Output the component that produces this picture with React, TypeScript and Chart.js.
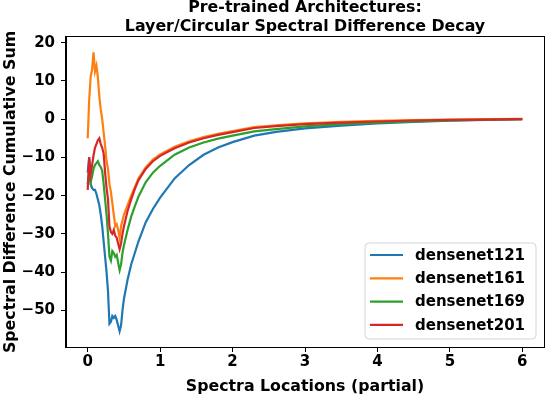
import React, { useEffect, useRef } from "react";
import { Chart, registerables } from "chart.js";

Chart.register(...registerables);

// ---------- data ----------
const xValues = [
  0, 0.02, 0.04, 0.06, 0.08, 0.1, 0.12, 0.14, 0.16, 0.18, 0.2, 0.22, 0.24, 0.26, 0.28, 0.3,
  0.32, 0.34, 0.36, 0.38, 0.4, 0.42, 0.44, 0.46, 0.48, 0.5, 0.55, 0.6, 0.65, 0.7, 0.8, 0.9,
  1.0, 1.2, 1.4, 1.6, 1.8, 2.0, 2.3, 2.6, 3.0, 3.5, 4.0, 4.5, 5.0, 5.5, 6.0,
];

const densenet121 = [
  -14, -10, -17, -18, -18.5, -18.5, -19.5, -21, -22.5, -25, -28, -32, -36, -40, -45, -53.5,
  -53, -51.5, -52, -51.5, -52.5, -54, -55.5, -54, -50, -47, -42, -38, -35, -32, -27, -23.5,
  -20.5, -15.5, -12, -9.3, -7.4, -6.0, -4.3, -3.3, -2.4, -1.7, -1.1, -0.7, -0.4, -0.2, 0,
];

const densenet161 = [
  -5, 5, 11, 13, 17.5, 12.5, 14, 11, 6, 2.5, 0, -3.5, -7, -11, -13, -17,
  -19, -22, -25, -28, -27.5, -29, -31, -28, -26.5, -25, -22.5, -20, -17.8, -15.5, -12.6, -10.6,
  -9.2, -7.2, -5.8, -4.7, -3.8, -3.1, -2.1, -1.6, -1.1, -0.7, -0.45, -0.25, -0.1, 0, 0.1,
];

const densenet169 = [
  -17, -14, -16.5, -15, -13, -12, -11.5, -11, -12, -12.5, -13.5, -17, -21, -25, -30, -36,
  -37, -34.5, -35, -36, -35.5, -37.5, -39.5, -38, -35, -33, -29, -25.5, -22.8, -20.3, -16.5, -14,
  -12.2, -9.3, -7.4, -6.1, -5.1, -4.3, -3.2, -2.6, -1.9, -1.3, -0.9, -0.6, -0.35, -0.15, 0,
];

const densenet201 = [
  -18.5, -10, -14.5, -12, -9.5, -7.5, -6.5, -5.5, -5, -6.5, -7.5, -9, -14, -18, -21, -28,
  -29.5, -30, -29, -30.5, -31, -32.5, -34, -32.5, -30, -28, -24, -21, -18.3, -16, -13, -11,
  -9.6, -7.6, -6.1, -5.0, -4.1, -3.4, -2.3, -1.8, -1.3, -0.9, -0.6, -0.35, -0.2, -0.1, 0,
];

const seriesNames = ["densenet121", "densenet161", "densenet169", "densenet201"];
const seriesValues = [densenet121, densenet161, densenet169, densenet201];
const seriesColors = ["#1f77b4", "#ff7f0e", "#2ca02c", "#d62728"];

const xTicks = [0, 1, 2, 3, 4, 5, 6];
const yTicks = [-50, -40, -30, -20, -10, 0, 10, 20];

const titleLines = ["Pre-trained Architectures:", "Layer/Circular Spectral Difference Decay"];
const xLabel = "Spectra Locations (partial)";
const yLabel = "Spectral Difference Cumulative Sum";

const FONT_FAMILY = "'DejaVu Sans', sans-serif";
const BOLD = (px: number) => `bold ${px}px ${FONT_FAMILY}`;
const fmt = (v: number) => (v < 0 ? "\u2212" + Math.abs(v) : String(v));

const decorPlugin = {
  id: "decor",
  beforeDraw(chart: any) {
    const { ctx, width, height } = chart;
    ctx.save();
    ctx.fillStyle = "#ffffff";
    ctx.fillRect(0, 0, width, height);
    ctx.restore();
  },
  afterDraw(chart: any) {
    const { ctx, chartArea } = chart;
    const { left, right, top, bottom } = chartArea;
    ctx.save();
    // frame
    ctx.strokeStyle = "#000";
    ctx.lineWidth = 1;
    ctx.strokeRect(Math.round(left) - 0.5, Math.round(top) - 0.5, Math.round(right - left) + 1, Math.round(bottom - top) + 1);

    // title
    ctx.fillStyle = "#000";
    ctx.font = BOLD(15.8);
    ctx.textAlign = "center";
    ctx.textBaseline = "alphabetic";
    const cx = (left + right) / 2;
    ctx.fillText(titleLines[0], cx, 12);
    ctx.fillText(titleLines[1], cx, 30.5);

    // x label
    ctx.fillText(xLabel, cx, 390.5);

    // y label
    ctx.save();
    ctx.translate(15, (top + bottom) / 2);
    ctx.rotate(-Math.PI / 2);
    ctx.fillText(yLabel, 0, 0);
    ctx.restore();

    // legend
    const lx = 365, ly = 243, lw = 171, lh = 96, r = 4;
    ctx.beginPath();
    ctx.moveTo(lx + r, ly);
    ctx.lineTo(lx + lw - r, ly);
    ctx.quadraticCurveTo(lx + lw, ly, lx + lw, ly + r);
    ctx.lineTo(lx + lw, ly + lh - r);
    ctx.quadraticCurveTo(lx + lw, ly + lh, lx + lw - r, ly + lh);
    ctx.lineTo(lx + r, ly + lh);
    ctx.quadraticCurveTo(lx, ly + lh, lx, ly + lh - r);
    ctx.lineTo(lx, ly + r);
    ctx.quadraticCurveTo(lx, ly, lx + r, ly);
    ctx.closePath();
    ctx.fillStyle = "rgba(255,255,255,0.8)";
    ctx.fill();
    ctx.strokeStyle = "#d6d6d6";
    ctx.lineWidth = 1;
    ctx.stroke();

    ctx.textAlign = "left";
    ctx.textBaseline = "middle";
    seriesNames.forEach((name, i) => {
      const y = 255 + i * 23.3;
      ctx.strokeStyle = seriesColors[i];
      ctx.lineWidth = 2.2;
      ctx.beginPath();
      ctx.moveTo(370, y);
      ctx.lineTo(403, y);
      ctx.stroke();
      ctx.fillStyle = "#000";
      ctx.font = BOLD(15);
      ctx.fillText(name, 415, y + 1);
    });
    ctx.restore();
  },
};

export default function App() {
  const canvasRef = useRef<HTMLCanvasElement | null>(null);

  useEffect(() => {
    document.body.style.margin = "0";
    const canvas = canvasRef.current;
    if (!canvas) return;

    const datasets = seriesNames.map((name, i) => ({
      label: name,
      data: xValues.map((x, j) => ({ x, y: seriesValues[i][j] })),
      borderColor: seriesColors[i],
      backgroundColor: seriesColors[i],
      borderWidth: 2.2,
      pointRadius: 0,
      tension: 0,
      fill: false,
      order: seriesNames.length - 1 - i,
    }));

    const chart = new Chart(canvas, {
      type: "line",
      data: { datasets },
      plugins: [decorPlugin],
      options: {
        responsive: false,
        animation: false,
        devicePixelRatio: 1,
        layout: { padding: { top: 37, right: 2, left: 0, bottom: 0 } },
        plugins: {
          legend: { display: false },
          title: { display: false },
          tooltip: { enabled: false },
        },
        scales: {
          x: {
            type: "linear",
            min: -0.3,
            max: 6.3,
            afterBuildTicks: (scale: any) => {
              scale.ticks = xTicks.map((v) => ({ value: v }));
            },
            afterFit: (scale: any) => {
              scale.height = 47;
            },
            ticks: {
              color: "#000",
              font: { family: FONT_FAMILY, size: 15, weight: "bold" },
              padding: 1,
              maxRotation: 0,
              autoSkip: false,
              callback: (v: any) => fmt(Number(v)),
            },
            grid: {
              drawOnChartArea: false,
              drawTicks: true,
              tickLength: 5,
              tickColor: "#000",
              color: "#000",
            },
            border: { display: true, color: "#000", width: 1 },
          },
          y: {
            type: "linear",
            min: -59.6,
            max: 21.5,
            afterBuildTicks: (scale: any) => {
              scale.ticks = yTicks.map((v) => ({ value: v }));
            },
            afterFit: (scale: any) => {
              scale.width = 66;
            },
            ticks: {
              color: "#000",
              font: { family: FONT_FAMILY, size: 15, weight: "bold" },
              padding: 6,
              autoSkip: false,
              callback: (v: any) => fmt(Number(v)),
            },
            grid: {
              drawOnChartArea: false,
              drawTicks: true,
              tickLength: 5,
              tickColor: "#000",
              color: "#000",
            },
            border: { display: true, color: "#000", width: 1 },
          },
        },
      },
    } as any);

    return () => chart.destroy();
  }, []);

  return (
    <div style={{ width: 546, height: 394 }}>
      <canvas ref={canvasRef} width={546} height={394} style={{ display: "block" }} />
    </div>
  );
}
